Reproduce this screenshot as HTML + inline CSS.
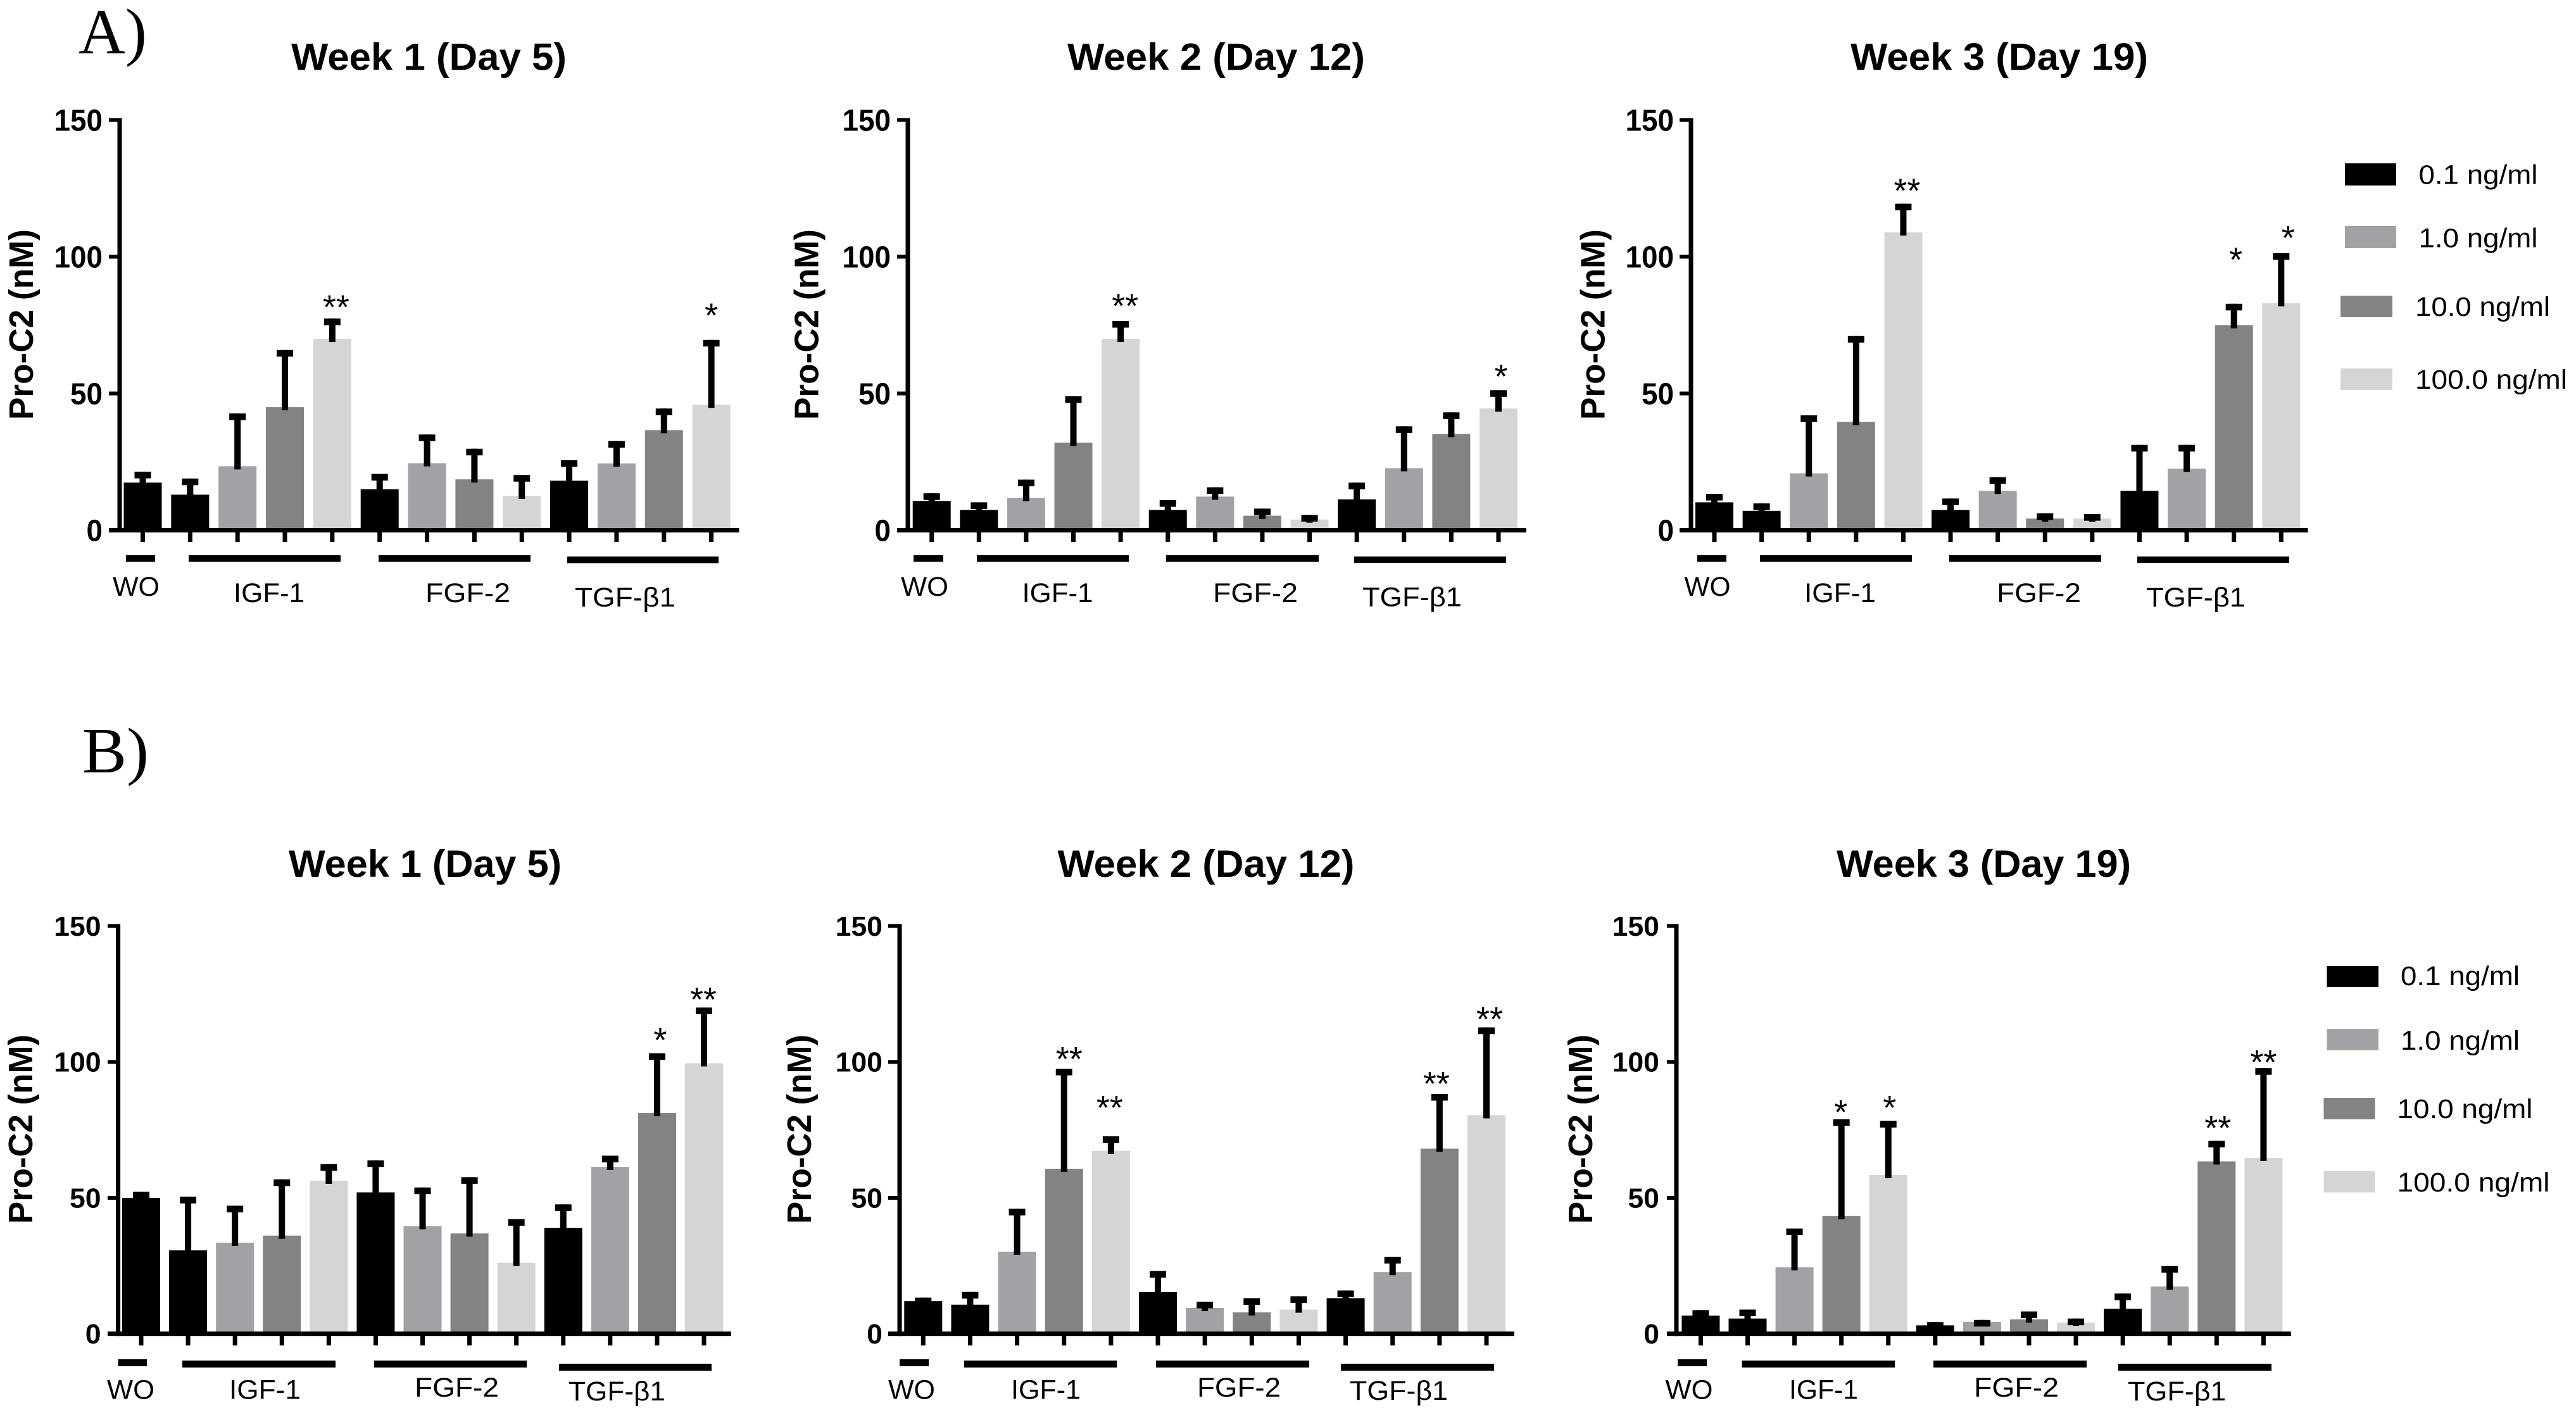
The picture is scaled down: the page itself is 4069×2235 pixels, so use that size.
<!DOCTYPE html>
<html lang="en">
<head>
<meta charset="utf-8">
<title>Pro-C2 release by growth factor dose</title>
<style>
html,body{margin:0;padding:0;background:#fff;}
svg{display:block;}
text{fill:#000;font-family:"Liberation Sans","DejaVu Sans",sans-serif;}
.panel-letter{font-family:"Liberation Serif",serif;font-size:102px;}
.title{font-size:60px;font-weight:bold;}
.ytitle{font-size:54px;font-weight:bold;text-anchor:middle;}
.group{font-size:43px;}
.legend{font-size:43px;}
.tick{font-weight:bold;text-anchor:end;}
.sig{font-size:54px;text-anchor:middle;}
</style>
</head>
<body>
<svg id="figure" xmlns="http://www.w3.org/2000/svg" width="4069" height="2235" viewBox="0 0 4069 2235">
<rect x="0" y="0" width="4069" height="2235" fill="#fff"/>

<text class="panel-letter" x="124" y="84" textLength="108" lengthAdjust="spacingAndGlyphs">A)</text>
<text class="panel-letter" x="130" y="1220" textLength="105" lengthAdjust="spacingAndGlyphs">B)</text>

<text class="title" x="460" y="110.5" textLength="435" lengthAdjust="spacingAndGlyphs">Week 1 (Day 5)</text>
<text class="title" x="1686" y="110.5" textLength="470" lengthAdjust="spacingAndGlyphs">Week 2 (Day 12)</text>
<text class="title" x="2923" y="110.5" textLength="470" lengthAdjust="spacingAndGlyphs">Week 3 (Day 19)</text>
<text class="title" x="456" y="1385" textLength="431" lengthAdjust="spacingAndGlyphs">Week 1 (Day 5)</text>
<text class="title" x="1670.5" y="1385" textLength="469" lengthAdjust="spacingAndGlyphs">Week 2 (Day 12)</text>
<text class="title" x="2901" y="1385" textLength="465" lengthAdjust="spacingAndGlyphs">Week 3 (Day 19)</text>

<text class="ytitle" transform="translate(52 512.5) rotate(-90)" textLength="301" lengthAdjust="spacingAndGlyphs">Pro-C2 (nM)</text>
<text class="ytitle" transform="translate(1292.5 512.5) rotate(-90)" textLength="301" lengthAdjust="spacingAndGlyphs">Pro-C2 (nM)</text>
<text class="ytitle" transform="translate(2534.5 512.5) rotate(-90)" textLength="301" lengthAdjust="spacingAndGlyphs">Pro-C2 (nM)</text>
<text class="ytitle" transform="translate(51 1783.5) rotate(-90)" textLength="299" lengthAdjust="spacingAndGlyphs">Pro-C2 (nM)</text>
<text class="ytitle" transform="translate(1281 1783.5) rotate(-90)" textLength="299" lengthAdjust="spacingAndGlyphs">Pro-C2 (nM)</text>
<text class="ytitle" transform="translate(2515 1783.5) rotate(-90)" textLength="299" lengthAdjust="spacingAndGlyphs">Pro-C2 (nM)</text>

<g>
<rect x="199" y="877" width="46" height="10.5"/>
<rect x="298" y="877" width="240" height="10.5"/>
<rect x="598" y="877" width="240" height="10.5"/>
<rect x="896" y="879" width="239" height="10.5"/>
<text class="group" x="178" y="941" textLength="74" lengthAdjust="spacingAndGlyphs">WO</text>
<text class="group" x="369" y="951" textLength="112" lengthAdjust="spacingAndGlyphs">IGF-1</text>
<text class="group" x="672" y="951" textLength="134" lengthAdjust="spacingAndGlyphs">FGF-2</text>
<text class="group" x="908" y="958" textLength="159" lengthAdjust="spacingAndGlyphs">TGF-β1</text>
</g>
<g>
<rect x="1443" y="877" width="47" height="10.5"/>
<rect x="1543" y="877" width="240" height="10.5"/>
<rect x="1842" y="877" width="241" height="10.5"/>
<rect x="2139" y="879" width="240" height="10"/>
<text class="group" x="1423" y="941" textLength="75" lengthAdjust="spacingAndGlyphs">WO</text>
<text class="group" x="1614.5" y="951" textLength="112" lengthAdjust="spacingAndGlyphs">IGF-1</text>
<text class="group" x="1916" y="951" textLength="134" lengthAdjust="spacingAndGlyphs">FGF-2</text>
<text class="group" x="2152" y="957.5" textLength="157" lengthAdjust="spacingAndGlyphs">TGF-β1</text>
</g>
<g>
<rect x="2681" y="877" width="46" height="10.5"/>
<rect x="2780" y="877" width="240" height="10.5"/>
<rect x="3079" y="877" width="240" height="10.5"/>
<rect x="3376" y="879" width="240" height="10"/>
<text class="group" x="2660.5" y="941" textLength="73" lengthAdjust="spacingAndGlyphs">WO</text>
<text class="group" x="2850" y="951" textLength="113" lengthAdjust="spacingAndGlyphs">IGF-1</text>
<text class="group" x="3154" y="951" textLength="133" lengthAdjust="spacingAndGlyphs">FGF-2</text>
<text class="group" x="3390" y="958" textLength="157" lengthAdjust="spacingAndGlyphs">TGF-β1</text>
</g>
<g>
<rect x="186.5" y="2147" width="45.5" height="11"/>
<rect x="288" y="2149" width="242" height="11"/>
<rect x="591" y="2149" width="241" height="11"/>
<rect x="883" y="2154" width="241" height="11"/>
<text class="group" x="169" y="2209.5" textLength="75" lengthAdjust="spacingAndGlyphs">WO</text>
<text class="group" x="362" y="2209.5" textLength="113" lengthAdjust="spacingAndGlyphs">IGF-1</text>
<text class="group" x="655" y="2206" textLength="133" lengthAdjust="spacingAndGlyphs">FGF-2</text>
<text class="group" x="898" y="2212" textLength="153" lengthAdjust="spacingAndGlyphs">TGF-β1</text>
</g>
<g>
<rect x="1421" y="2147" width="46" height="11"/>
<rect x="1523" y="2149" width="241" height="11"/>
<rect x="1826" y="2149" width="242" height="11"/>
<rect x="2118" y="2154" width="242" height="11"/>
<text class="group" x="1403" y="2209.5" textLength="74" lengthAdjust="spacingAndGlyphs">WO</text>
<text class="group" x="1597" y="2209.5" textLength="110" lengthAdjust="spacingAndGlyphs">IGF-1</text>
<text class="group" x="1891" y="2206" textLength="132" lengthAdjust="spacingAndGlyphs">FGF-2</text>
<text class="group" x="2132" y="2211" textLength="155" lengthAdjust="spacingAndGlyphs">TGF-β1</text>
</g>
<g>
<rect x="2650" y="2147" width="46" height="11"/>
<rect x="2751.5" y="2149" width="241.5" height="11"/>
<rect x="3054" y="2149" width="242" height="11"/>
<rect x="3346" y="2154" width="242" height="11"/>
<text class="group" x="2630.5" y="2209.5" textLength="75" lengthAdjust="spacingAndGlyphs">WO</text>
<text class="group" x="2826" y="2209.5" textLength="109" lengthAdjust="spacingAndGlyphs">IGF-1</text>
<text class="group" x="3118" y="2206" textLength="134" lengthAdjust="spacingAndGlyphs">FGF-2</text>
<text class="group" x="3361" y="2212" textLength="155.5" lengthAdjust="spacingAndGlyphs">TGF-β1</text>
</g>

<g>
<g>
<rect x="3704" y="258" width="81" height="35" fill="#000000"/>
<text class="legend" x="3820.5" y="290.5" textLength="188" lengthAdjust="spacingAndGlyphs">0.1 ng/ml</text>
</g>
<g>
<rect x="3704" y="357" width="81" height="35" fill="#a1a2a6"/>
<text class="legend" x="3820.5" y="390.5" textLength="188" lengthAdjust="spacingAndGlyphs">1.0 ng/ml</text>
</g>
<g>
<rect x="3697" y="467" width="82" height="34" fill="#838383"/>
<text class="legend" x="3815" y="499" textLength="213" lengthAdjust="spacingAndGlyphs">10.0 ng/ml</text>
</g>
<g>
<rect x="3697" y="582" width="82" height="34" fill="#d5d5d5"/>
<text class="legend" x="3815" y="614" textLength="240" lengthAdjust="spacingAndGlyphs">100.0 ng/ml</text>
</g>
</g>
<g>
<g>
<rect x="3675.5" y="1526" width="81.5" height="33" fill="#000000"/>
<text class="legend" x="3792" y="1556" textLength="188" lengthAdjust="spacingAndGlyphs">0.1 ng/ml</text>
</g>
<g>
<rect x="3675.5" y="1625" width="81.5" height="34" fill="#a1a2a6"/>
<text class="legend" x="3792" y="1658" textLength="188" lengthAdjust="spacingAndGlyphs">1.0 ng/ml</text>
</g>
<g>
<rect x="3670.5" y="1734" width="81" height="34" fill="#838383"/>
<text class="legend" x="3786.5" y="1766" textLength="214" lengthAdjust="spacingAndGlyphs">10.0 ng/ml</text>
</g>
<g>
<rect x="3670.5" y="1849.5" width="81" height="34" fill="#d5d5d5"/>
<text class="legend" x="3786.5" y="1882" textLength="241" lengthAdjust="spacingAndGlyphs">100.0 ng/ml</text>
</g>
</g>
</svg>

<script>
// Category order: WO control, then each growth factor at increasing dose.
const categories = ['WO','IGF-1 0.1','IGF-1 1.0','IGF-1 10.0','IGF-1 100.0','FGF-2 0.1','FGF-2 1.0','FGF-2 10.0','FGF-2 100.0','TGF-b1 0.1','TGF-b1 1.0','TGF-b1 10.0','TGF-b1 100.0'];
const categoryDoses = ['0.1','0.1','1.0','10.0','100.0','0.1','1.0','10.0','100.0','0.1','1.0','10.0','100.0'];
const tickValues = [0, 50, 100, 150];
const tickLabels = ['0', '50', '100', '150'];

// Mean values (nM)
const meansAWeek1 = [17.4, 13, 23.4, 45, 70, 15, 24.5, 18.6, 12.6, 18.1, 24.4, 36.6, 45.9];
const meansAWeek2 = [10.7, 7.4, 11.8, 32, 70, 7.4, 12.3, 5.3, 3.9, 11.3, 22.7, 35.2, 44.5];
const meansAWeek3 = [10.2, 7.1, 20.8, 39.6, 108.9, 7.4, 14.4, 4.3, 4.3, 14.4, 22.5, 75, 83];
const meansBWeek1 = [50, 30.7, 33.5, 36.1, 56.3, 52, 39.6, 36.9, 26.1, 38.9, 61.4, 81.2, 99.5];
const meansBWeek2 = [12, 10.7, 30.2, 60.7, 67.3, 15.3, 9.5, 7.9, 8.9, 13.1, 22.7, 68.1, 80.4];
const meansBWeek3 = [6.7, 5.6, 24.5, 43.3, 58.4, 3.1, 4.4, 5.3, 4.1, 9.2, 17.4, 63.4, 64.7];

// Upper end of each error bar (nM)
const upperAWeek1 = [21.4, 18.9, 42.7, 65.9, 77.4, 20.6, 35, 29.8, 20.2, 25.6, 32.6, 44.5, 69.6];
const upperAWeek2 = [13.5, 10.2, 18.5, 49, 76.5, 11, 15.7, 7.9, 5.6, 17.4, 38, 43.1, 51.2];
const upperAWeek3 = [13.3, 9.8, 42, 71, 119.4, 11.6, 19.4, 6.2, 5.9, 31.2, 31.2, 82.8, 101.3];
const upperBWeek1 = [52.2, 50.4, 47.1, 56.8, 62.4, 63.8, 53.8, 57.6, 42.2, 47.6, 65.5, 103.2, 120];
const upperBWeek2 = [13.3, 15.4, 46, 97.5, 72.7, 23.1, 11.8, 13.1, 13.8, 15.9, 28.3, 88.2, 112.7];
const upperBWeek3 = [8.7, 8.9, 38.7, 78.9, 78.3, 4.3, 5.1, 8.2, 5.6, 14.8, 24.9, 71, 97.7];

// Significance markers: which bar, which label, at what level on the axis
const sigBarAWeek1 = [4, 12];
const sigTextAWeek1 = ['**', '*'];
const sigLevelAWeek1 = [76.4, 73.4];
const sigBarAWeek2 = [4, 12];
const sigTextAWeek2 = ['**', '*'];
const sigLevelAWeek2 = [76.9, 51];
const sigBarAWeek3 = [4, 11, 12];
const sigTextAWeek3 = ['**', '*', '*'];
const sigLevelAWeek3 = [119, 93.8, 101.7];
const sigBarBWeek1 = [11, 12];
const sigTextBWeek1 = ['*', '**'];
const sigLevelBWeek1 = [102.9, 117.8];
const sigBarBWeek2 = [3, 4, 11, 12];
const sigTextBWeek2 = ['**', '**', '**', '**'];
const sigLevelBWeek2 = [95.9, 78, 86.8, 110.6];
const sigBarBWeek3 = [3, 4, 11, 12];
const sigTextBWeek3 = ['*', '*', '**', '**'];
const sigLevelBWeek3 = [76.3, 78, 70.5, 94.7];

const doseColor = {'0.1':'#000000','1.0':'#a1a2a6','10.0':'#838383','100.0':'#d5d5d5'};

const panels = [
  {means:meansAWeek1, upper:upperAWeek1, sigBar:sigBarAWeek1, sigText:sigTextAWeek1, sigLevel:sigLevelAWeek1, sigDx:[6,0], axisX:189, tickL:172, top:189.5, base:837.5, first:225.5, last:1123.6, end:1167.5, font:48, digitW:25.5},
  {means:meansAWeek2, upper:upperAWeek2, sigBar:sigBarAWeek2, sigText:sigTextAWeek2, sigLevel:sigLevelAWeek2, sigDx:[7,4], axisX:1434, tickL:1417, top:189.5, base:837.5, first:1471.7, last:2367, end:2411, font:48, digitW:25.5},
  {means:meansAWeek3, upper:upperAWeek3, sigBar:sigBarAWeek3, sigText:sigTextAWeek3, sigLevel:sigLevelAWeek3, sigDx:[6,3,11], axisX:2671, tickL:2653, top:189.5, base:837.5, first:2708, last:3603.3, end:3645.6, font:48, digitW:25.5},
  {means:meansBWeek1, upper:upperBWeek1, sigBar:sigBarBWeek1, sigText:sigTextBWeek1, sigLevel:sigLevelBWeek1, sigDx:[5,-1], axisX:186.6, tickL:170, top:1462.6, base:2106.7, first:223, last:1112, end:1155, font:44, digitW:24.8},
  {means:meansBWeek2, upper:upperBWeek2, sigBar:sigBarBWeek2, sigText:sigTextBWeek2, sigLevel:sigLevelBWeek2, sigDx:[8,-2,-5,5], axisX:1421, tickL:1403, top:1462.6, base:2106.7, first:1458.3, last:2348, end:2392, font:44, digitW:24.8},
  {means:meansBWeek3, upper:upperBWeek3, sigBar:sigBarBWeek3, sigText:sigTextBWeek3, sigLevel:sigLevelBWeek3, sigDx:[-1,2,2,0], axisX:2648, tickL:2633, top:1462.6, base:2106.7, first:2686.4, last:3575.4, end:3618.8, font:44, digitW:24.8}
];

const NS = 'http://www.w3.org/2000/svg';
const svg = document.getElementById('figure');

function box(parent, x, y, w, h, fill) {
  const r = document.createElementNS(NS, 'rect');
  r.setAttribute('x', x);
  r.setAttribute('y', y);
  r.setAttribute('width', w);
  r.setAttribute('height', Math.max(0, h));
  r.setAttribute('fill', fill);
  parent.appendChild(r);
  return r;
}

panels.forEach(function (p) {
  const yScale = function (v) { return p.base - (v / 150) * (p.base - p.top); };
  const xScale = function (i) { return p.first + i * (p.last - p.first) / (categories.length - 1); };
  const barW = 60, capW = 26, capH = 10.5, stemW = 10, stub = 5;

  const chart = document.createElementNS(NS, 'g');
  
  
  svg.appendChild(chart);

  categories.forEach(function (c, i) {
    const cx = xScale(i), yv = yScale(p.means[i]), yu = yScale(p.upper[i]);

    const bar = box(chart, cx - barW / 2, yv, barW, p.base - yv, doseColor[categoryDoses[i]]);
    
    

    const stem = box(chart, cx - stemW / 2, yu, stemW, yv + stub - yu, '#000');
    
    

    const cap = box(chart, cx - capW / 2, yu, capW, capH, '#000');
    
    

    const xt = box(chart, cx - 3.5, p.base, 7, 18.5, '#000');
    
    
  });

  const xAxis = box(chart, p.tickL, p.base - 3.5, p.end - p.tickL, 7, '#000');
  
  

  const yAxis = box(chart, p.axisX - 3.5, p.top - 3, 7, p.base - p.top + 6.5, '#000');
  
  

  tickValues.forEach(function (v, i) {
    const ty = yScale(v);
    const yt = box(chart, p.tickL, ty - 3, p.axisX - p.tickL, 6, '#000');
    
    

    const t = document.createElementNS(NS, 'text');
    t.setAttribute('class', 'tick');
    t.setAttribute('x', p.axisX - 27);
    t.setAttribute('y', ty + p.font * 0.35);
    t.setAttribute('font-size', p.font);
    t.setAttribute('textLength', tickLabels[i].length * p.digitW);
    t.setAttribute('lengthAdjust', 'spacingAndGlyphs');
    
    
    t.textContent = tickLabels[i];
    chart.appendChild(t);
  });

  p.sigBar.forEach(function (b, i) {
    const s = document.createElementNS(NS, 'text');
    s.setAttribute('class', 'sig');
    s.setAttribute('x', xScale(b) + p.sigDx[i]);
    s.setAttribute('y', yScale(p.sigLevel[i]) - 4);
    
    
    s.textContent = p.sigText[i];
    chart.appendChild(s);
  });
});
</script>
</body>
</html>
